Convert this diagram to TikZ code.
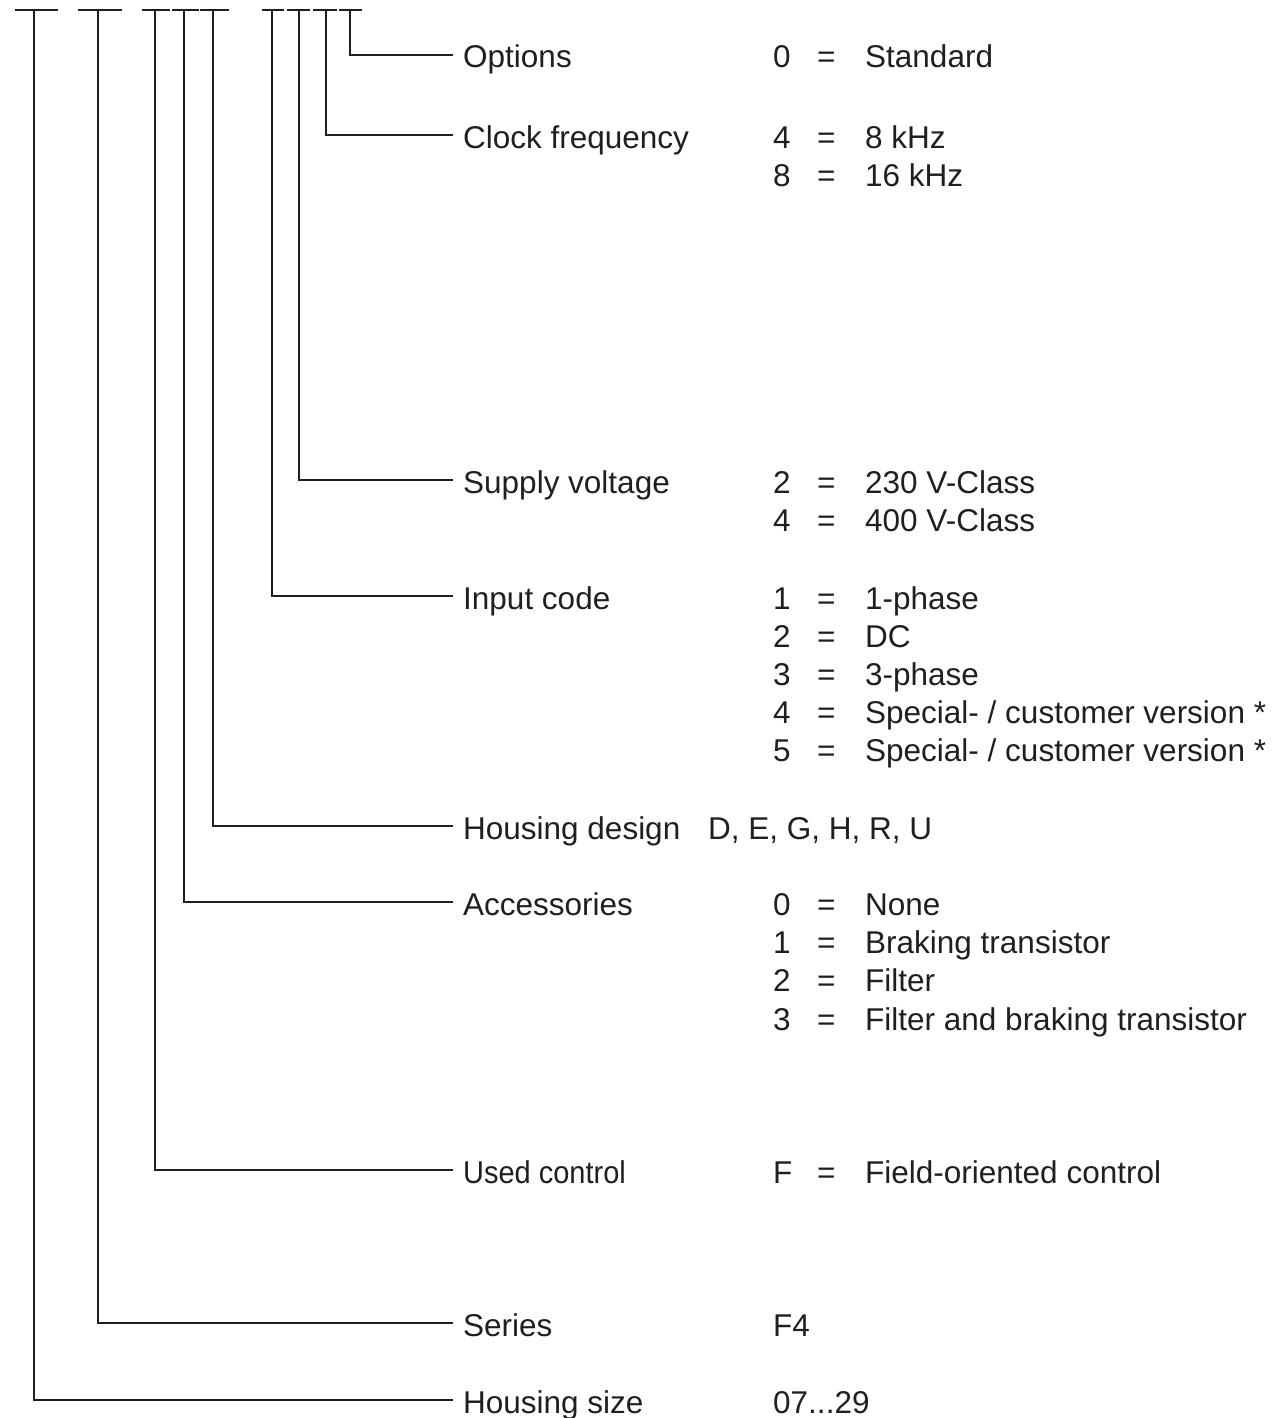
\documentclass[tikz,border=0pt]{standalone}
\usepackage{fontspec}
\setmainfont{Liberation Sans}
\usepackage{tikz}
\usetikzlibrary{calc,positioning}
\definecolor{ink}{gray}{0.12}
\newcommand{\codeval}[2]{\makebox[44pt][l]{#1}\makebox[48pt][l]{=}#2}
\tikzset{
		wire/.style={draw=ink, line width=1.5pt},
		feature/.style={
			anchor=west,
			inner xsep=10pt, inner ysep=0pt,
			text height=26pt, text depth=0pt,
			text=ink,
			font=\fontsize{31.5}{38}\selectfont},
		value/.style={
			feature,
			inner xsep=0pt},
	}
\begin{document}
\begin{tikzpicture}
				[x=1pt, y=-1pt]
				\useasboundingbox (0,0) rectangle (1272,1418);
				
				%% code positions
				\foreach \n/\x/\l/\r in {1/34/15/58, 2/98/78/122, 3/155/142/170,
						4/184/172/199, 5/213/200/229, 6/272/262/284, 7/299/287/310,
						8/326/313/337, 9/350/339/362}{
					\coordinate (t\n) at (\x,10);
					\draw[wire] (\l,10) -- (\r,10);
				}
				
				%% features
				\node[feature] (opt) at (453,55) {Options};
				\node[feature] (clk) at (453,135) {Clock frequency};
				\node[feature] (sup) at (453,480) {Supply voltage};
				\node[feature] (inp) at (453,596) {Input code};
				\node[feature] (hdes) at (453,826) {Housing design};
				\node[feature] (acc) at (453,902) {Accessories};
				\node[feature] (ctrl) at (453,1170) {\scalebox{0.92}[1]{Used control}};
				\node[feature] (ser) at (453,1323) {Series};
				\node[feature] (hsz) at (453,1400) {Housing size};
				
				\draw[wire] (t9) |- (opt.west);
				\draw[wire] (t8) |- (clk.west);
				\draw[wire] (t7) |- (sup.west);
				\draw[wire] (t6) |- (inp.west);
				\draw[wire] (t5) |- (hdes.west);
				\draw[wire] (t4) |- (acc.west);
				\draw[wire] (t3) |- (ctrl.west);
				\draw[wire] (t2) |- (ser.west);
				\draw[wire] (t1) |- (hsz.west);
				
				%% values
				\node[value] (opt-0) at (773,55) {\codeval{0}{Standard}};
				\node[value] (clk-4) at (773,135) {\codeval{4}{8 kHz}};
				\node[value] (clk-8) at (773,173) {\codeval{8}{16 kHz}};
				\node[value] (sup-2) at (773,480) {\codeval{2}{230 V-Class}};
				\node[value] (sup-4) at (773,518) {\codeval{4}{400 V-Class}};
				\node[value] (inp-1) at (773,596) {\codeval{1}{1-phase}};
				\node[value] (inp-2) at (773,634) {\codeval{2}{DC}};
				\node[value] (inp-3) at (773,672) {\codeval{3}{3-phase}};
				\node[value] (inp-4) at (773,710) {\codeval{4}{Special- / customer version *}};
				\node[value] (inp-5) at (773,748) {\codeval{5}{Special- / customer version *}};
				\node[value] (hdes-v) at (708,826) {D, E, G, H, R, U};
				\node[value] (acc-0) at (773,902) {\codeval{0}{None}};
				\node[value] (acc-1) at (773,940) {\codeval{1}{Braking transistor}};
				\node[value] (acc-2) at (773,978) {\codeval{2}{Filter}};
				\node[value] (acc-3) at (773,1017) {\codeval{3}{Filter and braking transistor}};
				\node[value] (ctrl-f) at (773,1170) {\codeval{F}{Field-oriented control}};
				\node[value] (ser-v) at (773,1323) {F4};
				\node[value] (hsz-v) at (773,1400) {07...29};
				
				\end{tikzpicture}
\end{document}
